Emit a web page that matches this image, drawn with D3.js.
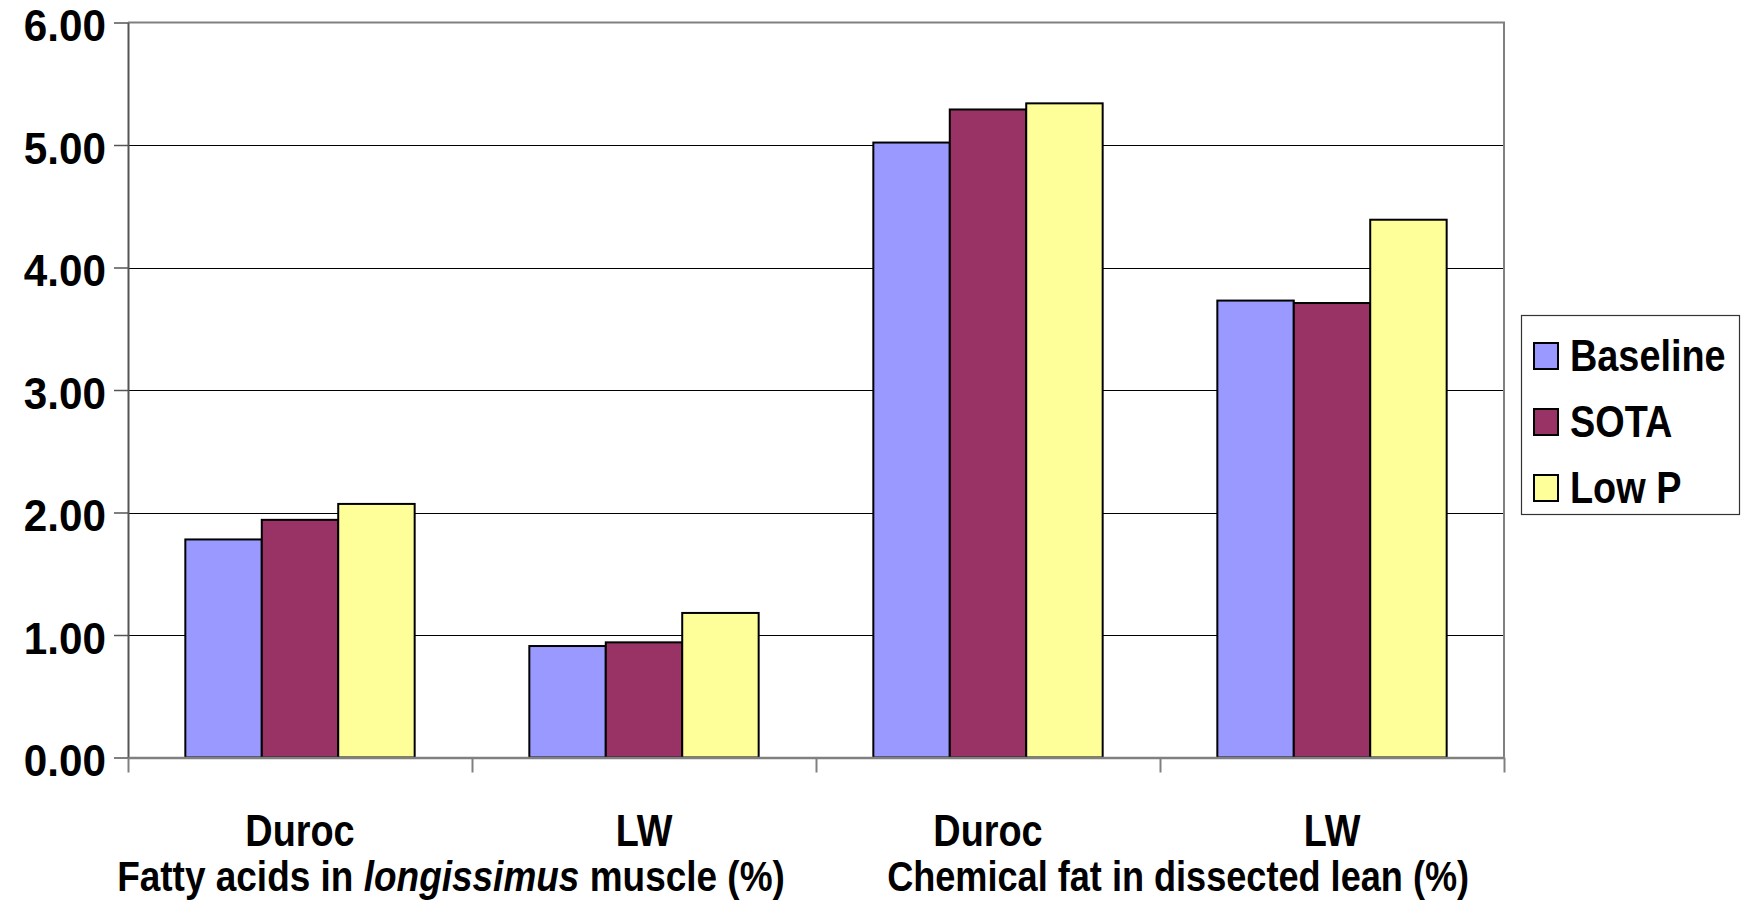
<!DOCTYPE html>
<html>
<head>
<meta charset="utf-8">
<script src="https://cdn.jsdelivr.net/npm/d3@7"></script>
<style>
  html, body { margin: 0; padding: 0; background: #ffffff; }
  svg { display: block; font-family: "Liberation Sans", Arial, sans-serif; font-weight: bold; }
</style>
</head>
<body>
<svg id="chart" width="1746" height="901"></svg>
<script>
// Breeds within each measurement group
const categories = ["Duroc", "LW", "Duroc", "LW"];
const groupTitles = ["Fatty acids in |longissimus| muscle (%)", "Chemical fat in dissected lean (%)"];
const seriesNames = ["Baseline", "SOTA", "Low P"];
const seriesColors = ["#9999FF", "#993366", "#FFFF99"];
const baseline = [1.78, 0.91, 5.02, 3.73];
const sota     = [1.94, 0.94, 5.29, 3.71];
const lowP     = [2.07, 1.18, 5.34, 4.39];
const yTicks = [0, 1, 2, 3, 4, 5, 6];

const seriesValues = [baseline, sota, lowP];
const rows = categories.map((c, i) => ({
  idx: i,
  vals: seriesNames.map((s, j) => ({ series: s, color: seriesColors[j], value: seriesValues[j][i] }))
}));

const svg = d3.select("#chart");
const plot = { left: 128, right: 1504, top: 22.5, bottom: 757.5 };
const SX = 0.86;      // horizontal squeeze of the lettering
const SX_TICK = 0.96; // squeeze of the value labels

const x = d3.scaleBand().domain(d3.range(categories.length)).range([plot.left, plot.right]).padding(0);
const xs = d3.scaleBand().domain(seriesNames).range([0, x.bandwidth()]).paddingInner(0).paddingOuter(0.75);
const y = d3.scaleLinear().domain([0, 6]).range([plot.bottom, plot.top]);

// gridlines
svg.append("g").selectAll("line").data(yTicks.filter(t => t > 0 && t < 6)).join("line")
  .attr("x1", plot.left).attr("x2", plot.right)
  .attr("y1", d => Math.round(y(d)) + 0.5).attr("y2", d => Math.round(y(d)) + 0.5)
  .attr("stroke", "#000").attr("stroke-width", 1.2);

// plot area frame (top and right)
svg.append("path")
  .attr("d", `M${plot.left},${y(6)}H${plot.right}V${plot.bottom}`)
  .attr("fill", "none").attr("stroke", "#808080").attr("stroke-width", 2);

// bars
const groups = svg.append("g").selectAll("g").data(rows).join("g")
  .attr("transform", d => `translate(${x(d.idx)},0)`);
groups.selectAll("rect").data(d => d.vals).join("rect")
  .attr("x", d => xs(d.series))
  .attr("width", xs.bandwidth())
  .attr("y", d => y(d.value))
  .attr("height", d => y(0) - y(d.value))
  .attr("fill", d => d.color)
  .attr("stroke", "#000").attr("stroke-width", 2);

// y axis
const yAxis = svg.append("g").attr("transform", `translate(${plot.left},0)`)
  .call(d3.axisLeft(y).tickValues(yTicks).tickFormat(d3.format(".2f")).tickSizeInner(14).tickSizeOuter(0));
yAxis.select(".domain").attr("stroke", "#555").attr("stroke-width", 2);
yAxis.selectAll(".tick line").attr("stroke", "#555").attr("stroke-width", 1.5);
yAxis.selectAll(".tick text")
  .attr("x", null).attr("dy", null)
  .attr("transform", `translate(-22,18) scale(${SX_TICK},1)`)
  .attr("text-anchor", "end")
  .attr("font-size", 44).attr("font-weight", "bold")
  .attr("font-family", "Liberation Sans, Arial, sans-serif")
  .attr("fill", "#000");

// x axis with ticks on category boundaries
const xb = d3.scaleLinear().domain([0, categories.length]).range([plot.left, plot.right]);
const xAxis = svg.append("g").attr("transform", `translate(0,${plot.bottom})`)
  .call(d3.axisBottom(xb).tickValues(d3.range(categories.length + 1)).tickFormat("").tickSizeInner(15).tickSizeOuter(0));
xAxis.select(".domain").attr("stroke", "#808080").attr("stroke-width", 2.5);
xAxis.selectAll(".tick line").attr("stroke", "#808080").attr("stroke-width", 2);

// category labels
svg.append("g").selectAll("text").data(categories).join("text")
  .attr("transform", (d, i) => `translate(${x(i) + x.bandwidth() / 2},846) scale(${SX},1)`)
  .attr("text-anchor", "middle")
  .attr("font-size", 44)
  .text(d => d);

// group titles, with italic parts between bars
const titlePos = [451, 1058 * 1746 / 1568];
const titleSize = [43, 42];
groupTitles.forEach((t, i) => {
  const txt = svg.append("text")
    .attr("transform", `translate(${titlePos[i]},891) scale(${SX},1)`)
    .attr("text-anchor", "middle")
    .attr("font-size", titleSize[i]);
  t.split("|").forEach((part, k) => {
    txt.append("tspan").attr("font-style", k % 2 ? "italic" : "normal").text(part);
  });
});

// legend
const lg = svg.append("g").attr("transform", "translate(1521,315)");
lg.append("rect").attr("x", 0.5).attr("y", 0.5).attr("width", 218).attr("height", 199)
  .attr("fill", "#fff").attr("stroke", "#333").attr("stroke-width", 1.2);
const items = lg.selectAll("g").data(seriesNames).join("g")
  .attr("transform", (d, i) => `translate(0,${40 + i * 66})`);
items.append("rect").attr("x", 13).attr("y", -12).attr("width", 24).attr("height", 26)
  .attr("fill", (d, i) => seriesColors[i]).attr("stroke", "#000").attr("stroke-width", 2);
items.append("text")
  .attr("transform", `translate(49,16) scale(${SX},1)`)
  .attr("font-size", 44)
  .text(d => d);
</script>
</body>
</html>
